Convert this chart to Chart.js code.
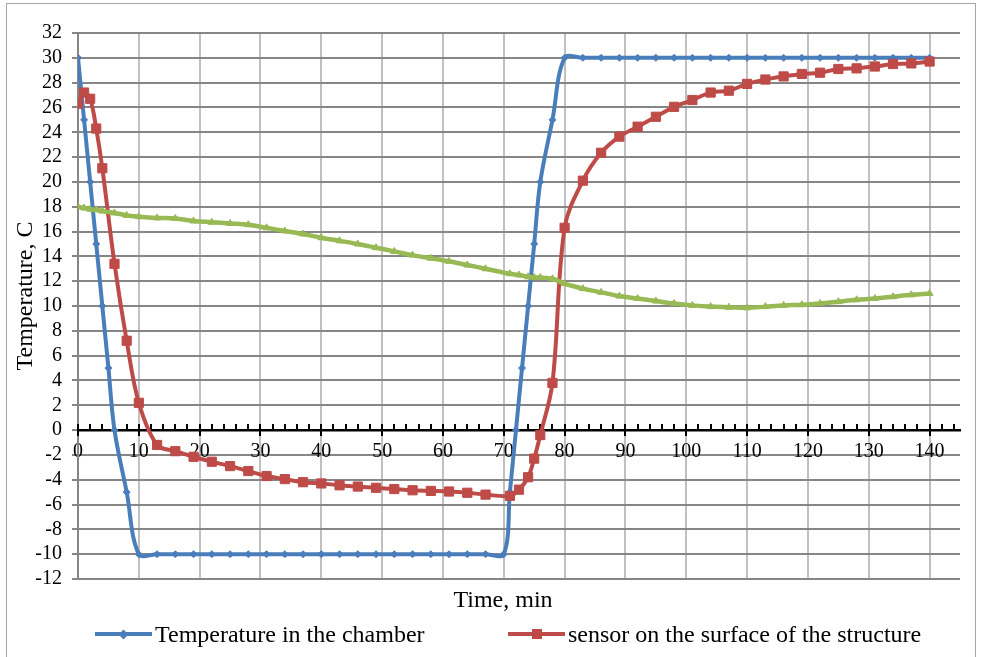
<!DOCTYPE html>
<html>
<head>
<meta charset="utf-8">
<script src="https://cdn.jsdelivr.net/npm/chart.js@4.4.1/dist/chart.umd.min.js"></script>
<style>
    body { margin: 0; background: #fff; }
    .wrap { position: relative; width: 990px; height: 657px; overflow: hidden; background: #fff; }
    .wrap canvas { position: absolute; left: 0; top: 0; }
    .frame { position: absolute; left: 6px; top: 3px; width: 968px; height: 720px; border: 1.5px solid #a6a6a6; pointer-events: none; }
    .legend-item { position: absolute; top: 619px; height: 30px; display: flex; align-items: center; font-family: "Liberation Serif", serif; font-size: 24px; color: #000; white-space: nowrap; }
    .legend-item .line { position: relative; width: 57px; height: 4px; margin-right: 3px; }
    .legend-item .mark { position: absolute; left: 50%; top: 50%; }
</style>
</head>
<body>
<div class="wrap">
    <canvas id="myChart" width="990" height="657"></canvas>
    <div class="frame"></div>
    <div class="legend-item" style="left:95px">
        <span class="line" style="background:#4a7ebb"><span class="mark" style="width:7px;height:7px;margin:-3.5px 0 0 -3.5px;background:#4a7ebb;transform:rotate(45deg)"></span></span>Temperature in the chamber
    </div>
    <div class="legend-item" style="left:508px">
        <span class="line" style="background:#be4b48"><span class="mark" style="width:10px;height:10px;margin:-5px 0 0 -5px;background:#be4b48"></span></span>sensor on the surface of the structure
    </div>
</div>
<script>
// Temperature in the chamber (time in min)
const timeChamber = [0, 1, 2, 3, 4, 5, 6, 8, 10,
    13, 16, 19, 22, 25, 28, 31, 34, 37, 40, 43, 46, 49, 52, 55, 58, 61, 64, 67, 70,
    71, 72, 73, 74, 75, 76, 78, 80,
    83, 86, 89, 92, 95, 98, 101, 104, 107, 110, 113, 116, 119, 122, 125, 128, 131, 134, 137, 140];
const tempChamber = [30, 25, 20, 15, 10, 5, 0, -5, -10,
    -10, -10, -10, -10, -10, -10, -10, -10, -10, -10, -10, -10, -10, -10, -10, -10, -10, -10, -10, -10,
    -5, 0, 5, 10, 15, 20, 25, 30,
    30, 30, 30, 30, 30, 30, 30, 30, 30, 30, 30, 30, 30, 30, 30, 30, 30, 30, 30, 30];

// sensors (same measuring times)
const timeSensor = [0, 1, 2, 3, 4, 6, 8, 10,
    13, 16, 19, 22, 25, 28, 31, 34, 37, 40, 43, 46, 49, 52, 55, 58, 61, 64, 67,
    71, 72.5, 74, 75, 76, 78,
    80, 83, 86, 89, 92, 95, 98, 101, 104, 107, 110, 113, 116, 119, 122, 125, 128, 131, 134, 137, 140];
const tempSurface = [26.3, 27.2, 26.7, 24.3, 21.1, 13.4, 7.2, 2.2,
    -1.2, -1.7, -2.15, -2.55, -2.9, -3.3, -3.7, -3.95, -4.2, -4.3, -4.45, -4.55, -4.65, -4.75, -4.85, -4.9, -4.95, -5.05, -5.2,
    -5.3, -4.8, -3.8, -2.3, -0.4, 3.8,
    16.3, 20.1, 22.35, 23.65, 24.45, 25.25, 26.05, 26.6, 27.2, 27.35, 27.9, 28.25, 28.5, 28.7, 28.8, 29.1, 29.15, 29.3, 29.5, 29.55, 29.7];
const tempInside = [18, 17.9, 17.8, 17.75, 17.65, 17.5, 17.3, 17.2,
    17.1, 17.05, 16.85, 16.75, 16.65, 16.55, 16.3, 16.05, 15.8, 15.5, 15.25, 15.0, 14.7, 14.4, 14.1, 13.85, 13.6, 13.3, 13.0,
    12.6, 12.5, 12.35, 12.3, 12.3, 12.2,
    11.8, 11.4, 11.1, 10.8, 10.6, 10.4, 10.2, 10.05, 9.95, 9.9, 9.85, 9.95, 10.05, 10.1, 10.2, 10.35, 10.5, 10.6, 10.75, 10.9, 11.0];

const xMin = 0, xMax = 145, xStep = 10;
const yMin = -12, yMax = 32, yStep = 2;

const FONT = "Liberation Serif";
const toPoints = (xs, ys) => xs.map((x, i) => ({ x: x, y: ys[i] }));

// black axis through zero with Excel-like tick marks, and both axis titles
const axisDecor = {
    id: 'axisDecor',
    beforeDatasetsDraw(chart) {
        const ctx = chart.ctx;
        const xs = chart.scales.x, ys = chart.scales.y;
        const y0 = ys.getPixelForValue(0);
        ctx.save();
        ctx.strokeStyle = '#000';
        ctx.lineWidth = 2;
        for (let v = xMin; v <= 144; v += 2) {
            const px = Math.round(xs.getPixelForValue(v));
            ctx.beginPath();
            ctx.moveTo(px, y0 - 6);
            ctx.lineTo(px, v % 10 === 0 ? y0 + 6 : y0);
            ctx.stroke();
        }
        ctx.restore();
    },
    afterDraw(chart) {
        const ctx = chart.ctx;
        ctx.save();
        ctx.fillStyle = '#000';
        ctx.font = '24px "' + FONT + '"';
        ctx.textAlign = 'center';
        ctx.textBaseline = 'middle';
        ctx.fillText('Time, min', 503, 601);
        ctx.translate(26, 296);
        ctx.rotate(-Math.PI / 2);
        ctx.fillText('Temperature, C', 0, 0);
        ctx.restore();
    }
};

new Chart(document.getElementById('myChart'), {
    type: 'line',
    data: {
        datasets: [{
            label: 'Temperature in the chamber',
            data: toPoints(timeChamber, tempChamber),
            borderColor: '#4a7ebb',
            backgroundColor: '#4a7ebb',
            borderWidth: 4,
            pointStyle: 'rectRot',
            pointRadius: 3.5,
            pointBorderWidth: 1,
            tension: 0.35,
            order: 3
        }, {
            label: 'sensor on the surface of the structure',
            data: toPoints(timeSensor, tempSurface),
            borderColor: '#be4b48',
            backgroundColor: '#be4b48',
            borderWidth: 4,
            pointStyle: 'rect',
            pointRadius: 6.5,
            pointBorderWidth: 1,
            tension: 0.35,
            order: 2
        }, {
            label: 'sensor inside the structure',
            data: toPoints(timeSensor, tempInside),
            borderColor: '#98b954',
            backgroundColor: '#98b954',
            borderWidth: 4.5,
            pointStyle: 'triangle',
            pointRadius: 4,
            pointBorderWidth: 1,
            tension: 0.35,
            order: 1
        }]
    },
    options: {
        responsive: false,
        animation: false,
        layout: { padding: { left: 12, top: 33, right: 30, bottom: 42 } },
        plugins: {
            legend: { display: false },
            tooltip: { enabled: false }
        },
        scales: {
            x: {
                type: 'linear',
                min: xMin,
                max: xMax,
                ticks: { display: false, stepSize: xStep, includeBounds: false, autoSkip: false },
                grid: { color: '#c0c0c0', lineWidth: 2, drawTicks: false, z: -1 },
                border: { display: false },
                afterFit: scale => { scale.height = 36; }
            },
            x0: {
                type: 'linear',
                axis: 'x',
                position: { y: 0 },
                min: xMin,
                max: xMax,
                ticks: {
                    stepSize: xStep,
                    includeBounds: false,
                    autoSkip: false,
                    padding: 10,
                    color: '#000',
                    font: { family: FONT, size: 20 }
                },
                grid: { display: false, drawTicks: false },
                border: { display: true, color: '#000', width: 2.5 }
            },
            y: {
                min: yMin,
                max: yMax,
                ticks: {
                    stepSize: yStep,
                    autoSkip: false,
                    padding: 10,
                    color: '#000',
                    font: { family: FONT, size: 20 }
                },
                grid: { color: '#868686', lineWidth: 2, tickLength: 6, tickColor: '#868686' },
                border: { color: '#868686', width: 2 },
                afterFit: scale => { scale.width = 66; }
            }
        }
    },
    plugins: [axisDecor]
});
</script>
</body>
</html>
